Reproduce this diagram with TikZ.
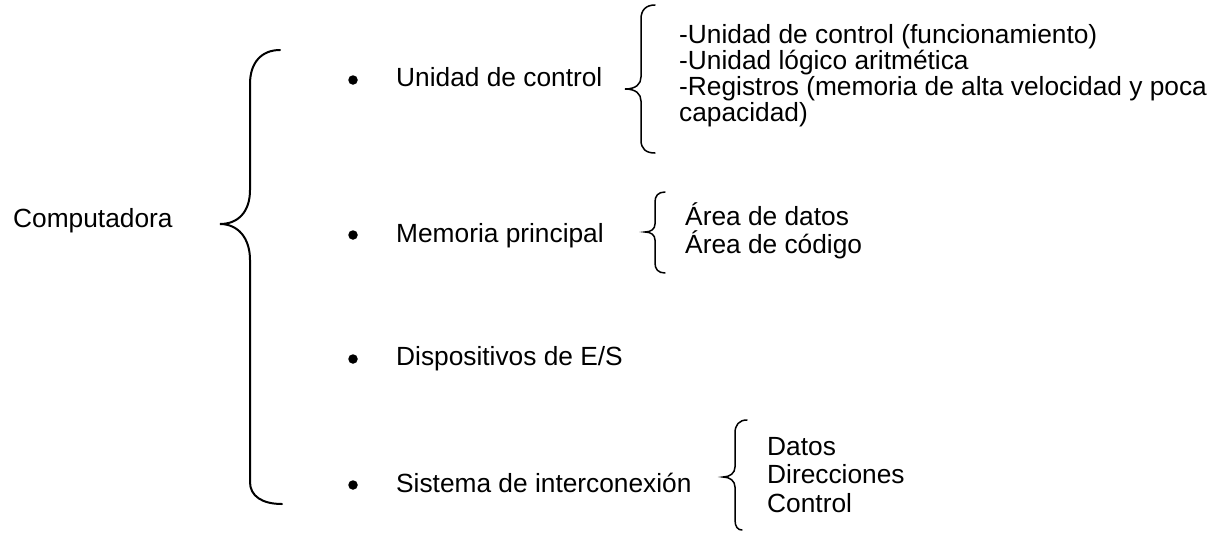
\documentclass[tikz,border=0pt]{standalone}
\usepackage{fontspec}
\setmainfont{Liberation Sans}
\newcommand\stackedlines[2]{\vtop{\baselineskip=#1\lineskiplimit=-100pt\relax #2}}
\begin{document}
\begin{tikzpicture}[x=1pt,y=-1pt,
  txt/.style={font=\fontsize{26.3}{26.3}\selectfont, inner sep=0pt, anchor=base west},
  bulletdot/.style={circle, fill=black, inner sep=0pt, minimum size=9.5pt},
  bigbrace/.style={draw=black, line width=2pt, line cap=round},
  smallbrace/.style={draw=black, line width=1.5pt, line cap=round}]
\useasboundingbox (0,0) rectangle (1218,533);
% root
\node[txt] (comp) at (13,227) {Computadora};
% big brace
\path[bigbrace] (280,50) .. controls (262,50) and (250,62) .. (250,84) -- (250,190)
  .. controls (250,212) and (238,224) .. (220,224)
  .. controls (238,224) and (250,238) .. (250,260) -- (250,482)
  .. controls (250,496) and (262,504) .. (282,504);
% bullets
\node[bulletdot] (b1) at (353,80) {};
\node[bulletdot] (b2) at (353,235) {};
\node[bulletdot] (b3) at (353,359) {};
\node[bulletdot] (b4) at (353,485) {};
% main items
\node[txt] (uc) at (396,86.7) {Unidad de control};
\node[txt] (mp) at (396,242) {Memoria principal};
\node[txt] (es) at (396,365) {Dispositivos de E/S};
\node[txt] (si) at (396,492) {Sistema de interconexión};
% brace unidad de control
\path[smallbrace] (655,5) .. controls (646,5) and (641,10) .. (641,19) -- (641,77)
  .. controls (641,84) and (636,89) .. (625,89)
  .. controls (636,89) and (641,94) .. (641,101) -- (641,140)
  .. controls (641,149) and (646,153) .. (655,153);
\node[txt] (ucl) at (679,43) {\stackedlines{26.3pt}{%
  \hbox{-Unidad de control (funcionamiento)}%
  \hbox{-Unidad lógico aritmética}%
  \hbox{-Registros (memoria de alta velocidad y poca}%
  \hbox{capacidad)}}};
% brace memoria principal
\path[smallbrace] (665,192) .. controls (658,192) and (655,196) .. (655,202) -- (655,224)
  .. controls (655,229) and (651,232) .. (645,232)
  .. controls (651,232) and (655,235) .. (655,240) -- (655,263)
  .. controls (655,269) and (658,273) .. (665,273);
\node[txt] (mpl) at (685,225) {\stackedlines{28pt}{%
  \hbox{Área de datos}%
  \hbox{Área de código}}};
% brace sistema de interconexion
\path[smallbrace] (747,420) .. controls (739,420) and (735,425) .. (735,433) -- (735,467)
  .. controls (735,473) and (730,477) .. (723,477)
  .. controls (730,477) and (735,481) .. (735,487) -- (735,520)
  .. controls (735,527) and (738,530) .. (742,530);
\node[txt] (sil) at (767,455) {\stackedlines{28.5pt}{%
  \hbox{Datos}%
  \hbox{Direcciones}%
  \hbox{Control}}};
\end{tikzpicture}
\end{document}
